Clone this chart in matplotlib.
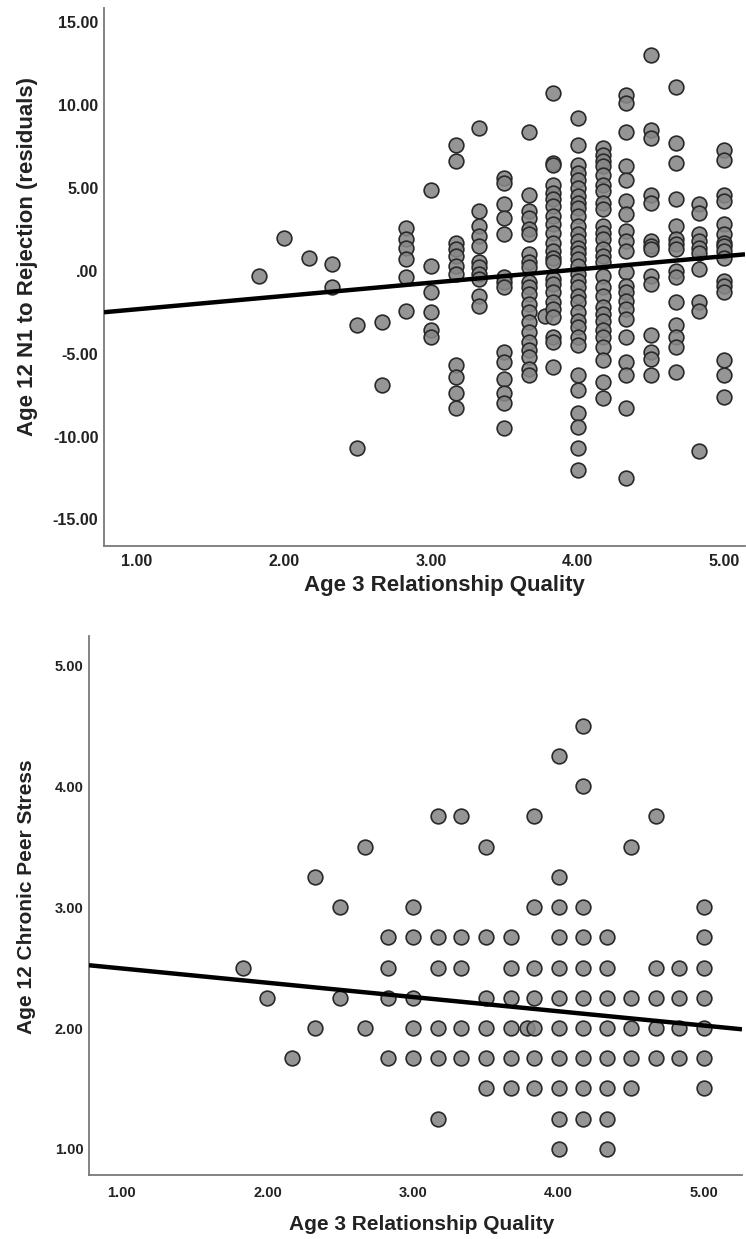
import matplotlib
matplotlib.use("Agg")
import matplotlib.pyplot as plt
from matplotlib.ticker import FuncFormatter
import numpy as np

plt.rcParams["font.family"] = ["Liberation Sans", "DejaVu Sans"]

# Age 3 relationship quality levels (x) shared by both panels
quality_levels = [1.83, 2.00, 2.17, 2.33, 2.50, 2.67, 2.83, 3.00, 3.17, 3.33,
                  3.50, 3.67, 3.78, 3.83, 4.00, 4.17, 4.33, 4.50, 4.67, 4.83, 5.00]

# panel A: N1 to rejection residuals, one list per quality level
rejection_by_level = [
    [-0.3],
    [2.0],
    [0.8],
    [0.4, -1.0],
    [-3.3, -10.7],
    [-3.1, -6.9],
    [2.6, 1.9, 1.4, 0.7, -0.4, -2.4],
    [4.9, 0.3, -1.3, -2.5, -3.6, -4.0],
    [7.6, 6.6, 1.7, 1.3, 0.9, 0.3, -0.2, -5.7, -6.4, -7.4, -8.3],
    [8.6, 3.6, 2.7, 2.1, 1.5, 0.5, 0.2, -0.2, -0.5, -1.5, -2.1],
    [5.6, 5.3, 4.0, 3.2, 2.2, -0.4, -0.7, -1.0, -4.9, -5.5, -6.5, -7.4, -8.0, -9.5],
    [8.4, 4.6, 3.6, 3.2, 2.5, 2.2, 1.0, 0.5, 0.2, -0.7, -1.0, -1.4, -2.0, -2.5,
     -3.1, -3.7, -4.3, -4.8, -5.2, -5.9, -6.3],
    [-2.7],
    [10.7, 6.5, 6.4, 5.2, 4.7, 4.3, 3.9, 3.3, 2.8, 2.3, 1.7, 1.2, 0.8, 0.5, -0.5,
     -0.8, -1.3, -1.9, -2.3, -2.8, -4.0, -4.3, -5.8],
    [9.2, 7.6, 6.4, 5.9, 5.5, 5.0, 4.5, 4.1, 3.8, 3.3, 2.7, 2.2, 1.8, 1.4, 1.1,
     0.7, 0.3, -0.2, -0.6, -1.0, -1.5, -1.9, -2.5, -3.0, -3.4, -4.0, -4.5, -6.3,
     -7.2, -8.6, -9.4, -10.7, -12.0],
    [7.4, 7.0, 6.6, 6.3, 5.8, 5.2, 4.8, 4.1, 3.7, 2.7, 2.3, 1.9, 1.3, 0.9, 0.5,
     -0.3, -0.95, -1.5, -2.2, -2.6, -3.0, -3.6, -4.0, -4.6, -5.4, -6.7, -7.7],
    [10.6, 10.1, 8.4, 6.3, 5.5, 4.2, 3.4, 2.4, 1.8, 1.2, -0.1, -0.9, -1.3, -1.8,
     -2.3, -2.9, -4.0, -5.5, -6.3, -8.3, -12.5],
    [13.0, 8.5, 8.0, 4.6, 4.1, 1.8, 1.5, 1.3, -0.3, -0.8, -3.9, -4.9, -5.3, -6.3],
    [11.1, 7.7, 6.5, 4.3, 2.7, 1.9, 1.6, 1.3, 0.0, -0.4, -1.9, -3.3, -4.0, -4.6, -6.1],
    [4.0, 3.5, 2.2, 1.8, 1.4, 1.1, 0.1, -1.9, -2.4, -10.9],
    [7.3, 6.7, 4.6, 4.2, 2.8, 2.2, 1.7, 1.5, 1.2, 0.8, -0.6, -0.9, -1.3, -5.4, -6.3, -7.6],
]

# panel B: chronic peer stress, one list per quality level
stress_by_level = [
    [2.5],
    [2.25],
    [1.75],
    [3.25, 2.0],
    [3.0, 2.25],
    [3.5, 2.0],
    [2.75, 2.5, 2.25, 1.75],
    [3.0, 2.75, 2.25, 2.0, 1.75],
    [3.75, 2.75, 2.5, 2.0, 1.75, 1.25],
    [3.75, 2.75, 2.5, 2.0, 1.75],
    [3.5, 2.75, 2.25, 2.0, 1.75, 1.5],
    [2.75, 2.5, 2.25, 2.0, 1.75, 1.5],
    [2.0],
    [3.75, 3.0, 2.5, 2.25, 2.0, 1.75, 1.5],
    [4.25, 3.25, 3.0, 2.75, 2.5, 2.25, 2.0, 1.75, 1.5, 1.25, 1.0],
    [4.5, 4.0, 3.0, 2.75, 2.5, 2.25, 2.0, 1.75, 1.5, 1.25],
    [2.75, 2.5, 2.25, 2.0, 1.75, 1.5, 1.25, 1.0],
    [3.5, 2.25, 2.0, 1.75, 1.5],
    [3.75, 2.5, 2.25, 2.0, 1.75],
    [2.5, 2.25, 2.0, 1.75],
    [3.0, 2.75, 2.5, 2.25, 2.0, 1.75, 1.5],
]

# fit lines: (intercept, slope)
rejection_fit = (-3.12, 0.80)
stress_fit = (2.61, -0.118)

x_label = "Age 3 Relationship Quality"
y_label_top = "Age 12 N1 to Rejection (residuals)"
y_label_bottom = "Age 12 Chronic Peer Stress"


def spss_fmt(v, _pos=None):
    s = f"{v:.2f}"
    if s in ("0.00", "-0.00"):
        return ".00"
    return s


def flatten(levels, by_level):
    xs, ys = [], []
    for x, vals in zip(levels, by_level):
        xs += [x] * len(vals)
        ys += vals
    return np.array(xs), np.array(ys)


def panel(ax, xs, ys, fit, xlim, ylim, yticks, tick_fs, xpad, ylab, xlab_xy, ylab_xy, lab_fs):
    ax.scatter(xs, ys, s=112, facecolor=(0.53, 0.53, 0.53, 0.88),
               edgecolor=(0.16, 0.16, 0.16), linewidth=1.2, zorder=2)
    line_x = np.array(xlim)
    ax.plot(line_x, fit[0] + fit[1] * line_x, color="black", lw=3.2,
            solid_capstyle="butt", zorder=3)
    ax.set_xlim(*xlim)
    ax.set_ylim(*ylim)
    ax.set_xticks([1, 2, 3, 4, 5])
    ax.set_yticks(yticks)
    ax.xaxis.set_major_formatter(FuncFormatter(spss_fmt))
    ax.yaxis.set_major_formatter(FuncFormatter(spss_fmt))
    ax.tick_params(length=0, labelsize=tick_fs, colors="#222222")
    ax.tick_params(axis="x", pad=xpad)
    ax.tick_params(axis="y", pad=4)
    for lab in ax.get_xticklabels() + ax.get_yticklabels():
        lab.set_fontweight("bold")
    for side in ("top", "right"):
        ax.spines[side].set_visible(False)
    for side in ("left", "bottom"):
        ax.spines[side].set_color("#7a7a7a")
        ax.spines[side].set_linewidth(1.3)
    ax.set_xlabel(x_label, fontsize=lab_fs, fontweight="bold", color="#222222", va="center")
    ax.xaxis.set_label_coords(*xlab_xy)
    ax.set_ylabel(ylab, fontsize=lab_fs, fontweight="bold", color="#222222", va="center")
    ax.yaxis.set_label_coords(*ylab_xy)


W, H = 746, 1239
fig = plt.figure(figsize=(W / 100, H / 100), dpi=100)

# top panel: spines at x=104px, y 8..546px
ax1 = fig.add_axes([104 / W, 1 - 546 / H, (745 - 104) / W, (546 - 8) / H])
xs, ys = flatten(quality_levels, rejection_by_level)
panel(ax1, xs, ys, rejection_fit, (0.775, 5.14), (-16.6, 15.85),
      [-15, -10, -5, 0, 5, 10, 15], 11.5, 6, y_label_top,
      ((444 - 104) / 641, (546 - 586) / 538), ((27 - 104) / 641, (546 - 257) / 538), 16)

# bottom panel: spines at x=89px, y 636..1175px
ax2 = fig.add_axes([89 / W, 1 - 1175 / H, (742 - 89) / W, (1175 - 636) / H])
xs, ys = flatten(quality_levels, stress_by_level)
panel(ax2, xs, ys, stress_fit, (0.774, 5.26), (0.785, 5.24),
      [1, 2, 3, 4, 5], 10.5, 8, y_label_bottom,
      ((422 - 89) / 653, (1175 - 1224) / 539), ((27 - 89) / 653, (1175 - 897) / 539), 15)

fig.savefig("out.png", dpi=100)
